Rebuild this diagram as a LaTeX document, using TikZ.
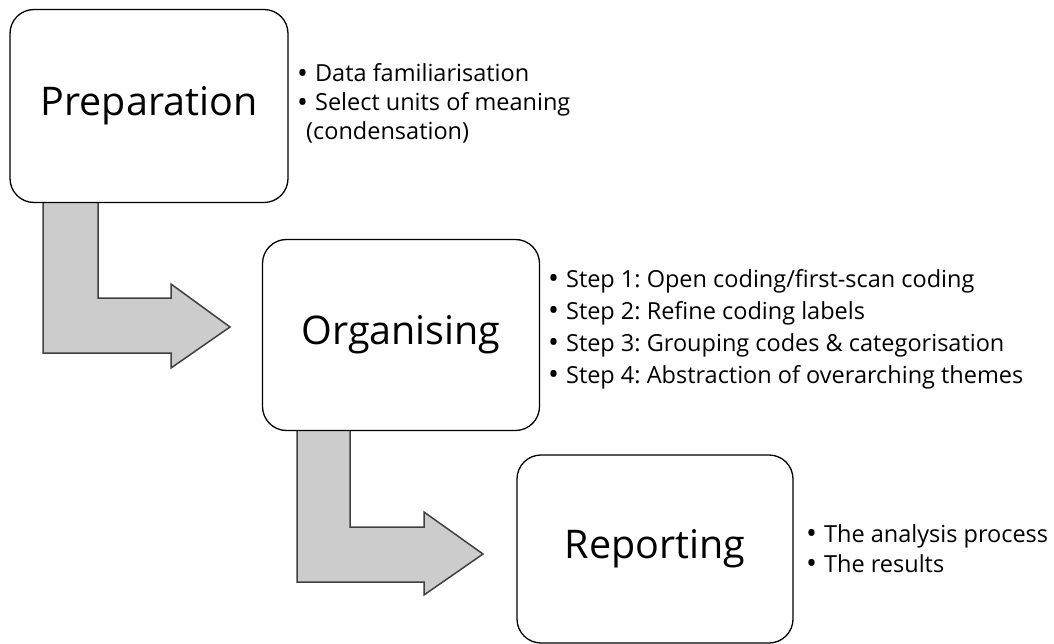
\documentclass[tikz,border=0pt]{standalone}
\usepackage{fontspec}
\setmainfont{Open Sans}
\frenchspacing
% slightly heavier bullet for the note lists
\newcommand{\notebullet}{\raisebox{-1.5pt}{\fontsize{29}{29}\selectfont•}\hspace{7pt}}
\begin{document}
\begin{tikzpicture}[x=1pt,y=-1pt,
  stage/.style={draw=black, line width=1.3pt, fill=white, rounded corners=24pt,
    minimum width=#1, inner sep=0pt, font=\fontsize{39.5}{42}\selectfont},
  bentarrow/.style={fill=black!20, draw=black!75, line width=1.5pt, line join=miter},
  notes/.style={anchor=base west, align=left, inner sep=0pt},
]
\useasboundingbox (0,0) rectangle (1054,644);

% bent block arrows, drawn first so the boxes cover their upper ends
\draw[bentarrow] (43,195) -- (98,195) -- (98,298) -- (171,298) -- (171,284)
  -- (230,327) -- (171,368) -- (171,353) -- (43,353) -- cycle;
\draw[bentarrow] (297,425) -- (350,425) -- (350,527) -- (424,527) -- (424,512)
  -- (483,554) -- (424,595) -- (424,582) -- (297,582) -- cycle;

% stage boxes
\node[stage=278pt, minimum height=193pt] (prep) at (149,106) {Preparation};
\node[stage=277pt, minimum height=191pt] (org) at (401,335) {Organising};
\node[stage=276pt, minimum height=188pt] (rep) at (655,549) {Reporting};

% notes beside each stage (anchored at the baseline of the last line)
\node[notes, font=\fontsize{23.5}{29}\selectfont] (prepnotes) at (297,140)
  {\notebullet Data familiarisation\\
   \notebullet Select units of meaning\\
   \hspace{9pt}(condensation)};
\node[notes, font=\fontsize{23.5}{32}\selectfont] (orgnotes) at (548,383)
  {\notebullet Step 1: Open coding/first-scan coding\\
   \notebullet Step 2: Refine coding labels\\
   \notebullet Step 3: Grouping codes \& categorisation\\
   \notebullet Step 4: Abstraction of overarching themes};
\node[notes, font=\fontsize{23.5}{30}\selectfont] (repnotes) at (806,572)
  {\notebullet The analysis process\\
   \notebullet The results};
\end{tikzpicture}
\end{document}
